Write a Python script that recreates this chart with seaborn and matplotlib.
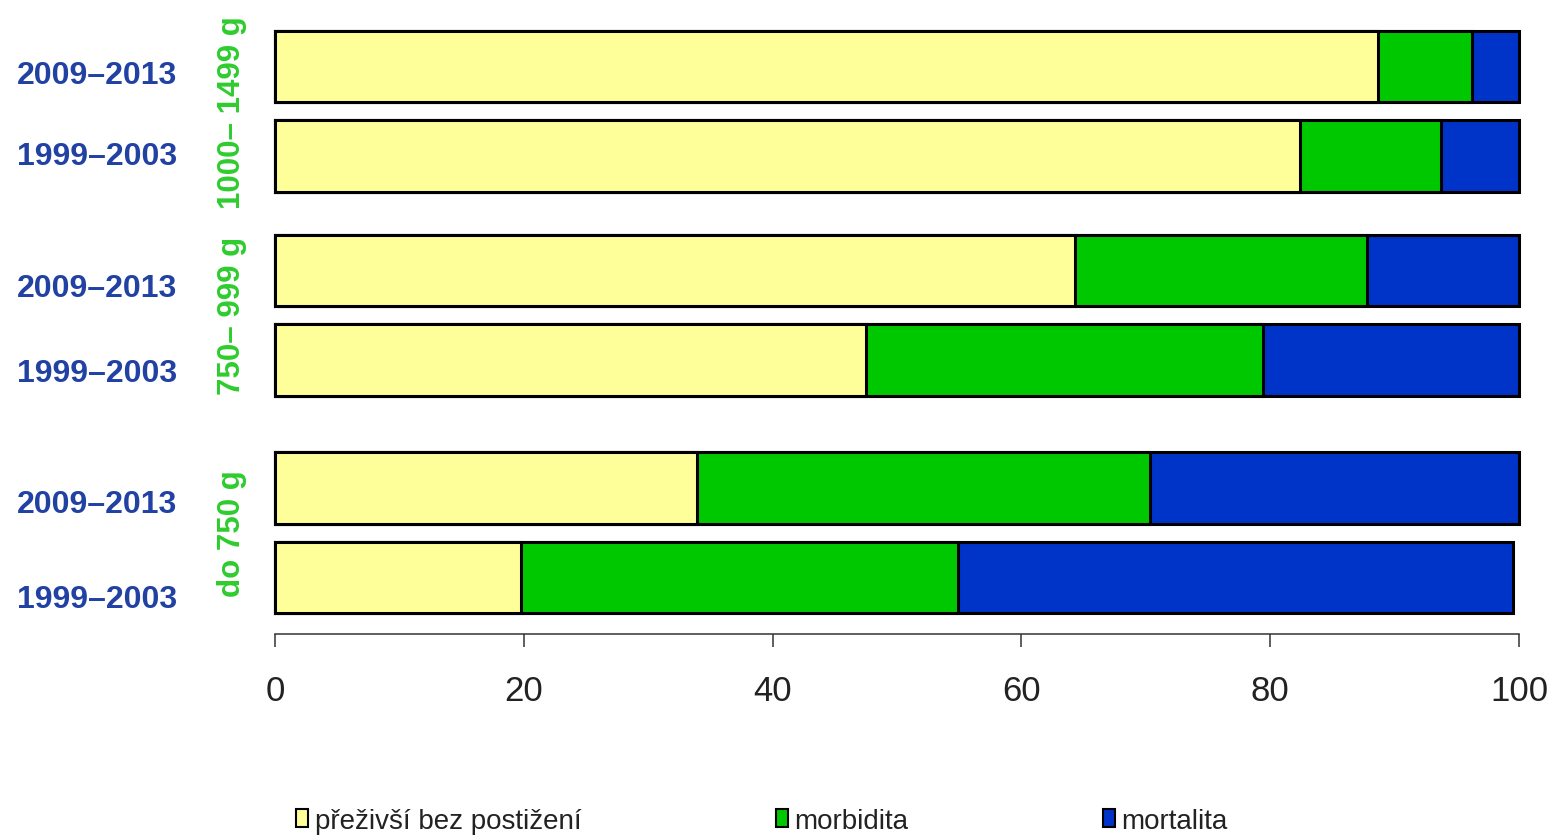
import matplotlib
matplotlib.use("Agg")
import matplotlib.pyplot as plt
import matplotlib.transforms as mtransforms
from matplotlib.patches import Patch
import seaborn as sns
import numpy as np
import pandas as pd

# ---- data ----
periods = ["2009–2013", "1999–2003", "2009–2013", "1999–2003", "2009–2013", "1999–2003"]
groups = ["1000– 1499 g", "750– 999 g", "do 750 g"]
preziv = [88.7, 82.4, 64.3, 47.5, 33.9, 19.8]
morbidita = [7.5, 11.3, 23.5, 31.9, 36.4, 35.1]
mortalita = [3.8, 6.3, 12.2, 20.6, 29.7, 44.6]
series_names = ["přeživší bez postižení", "morbidita", "mortalita"]
x_ticks = [0, 20, 40, 60, 80, 100]

# ---- layout (bar slots, top to bottom) ----
slot = [0, 1, 2.28, 3.28, 4.71, 5.71]
label_y = [0.1, 1.0, 2.47, 3.42, 4.89, 5.95]

colors = ["#FFFF99", "#00C800", "#0033C8"]

sns.set_theme(style="white")
plt.rcParams["font.family"] = ["Liberation Sans", "DejaVu Sans"]

df = pd.DataFrame({"slot": slot, "p": preziv, "m": morbidita, "t": mortalita})
df["c1"] = df["p"]
df["c2"] = df["p"] + df["m"]
df["c3"] = df["p"] + df["m"] + df["t"]

fig = plt.figure(figsize=(15.57, 8.37), dpi=100)
ax = fig.add_axes([262.6 / 1557, 202 / 837, (1531.4 - 262.6) / 1557, 621.2 / 837])

for col, c in zip(["c3", "c2", "c1"], colors[::-1]):
    sns.barplot(data=df, x=col, y="slot", orient="y", native_scale=True,
                color=c, edgecolor="black", linewidth=2.2, width=0.8,
                saturation=1, errorbar=None, ax=ax)

ax.set_xlim(-1, 101)
ax.set_ylim(6.34, -0.6)
ax.set_xlabel("")
ax.set_ylabel("")
ax.set_yticks([])
ax.set_xticks(x_ticks)
ax.set_xticklabels([str(v) for v in x_ticks], fontsize=25, color="#222222")
ax.tick_params(axis="x", length=9.5, width=1.1, color="#333333", pad=19, bottom=True)
for s in ["top", "right", "left"]:
    ax.spines[s].set_visible(False)
ax.spines["bottom"].set_bounds(0, 100)
ax.spines["bottom"].set_color("#333333")
ax.spines["bottom"].set_linewidth(1.1)

# period labels
trans = mtransforms.blended_transform_factory(fig.transFigure, ax.transData)
for ly, lab in zip(label_y, periods):
    ax.text(97 / 1557, ly, lab, transform=trans, ha="center", va="center",
            fontsize=23, fontweight="bold", color="#2141A3")

# group labels
for gi, g in enumerate(groups):
    yc = (slot[2 * gi] + slot[2 * gi + 1]) / 2
    ax.text(232 / 1557, yc, g, transform=trans, ha="center", va="center",
            rotation=90, fontsize=22.5, fontweight="bold", color="#2ECC2E")

handles = [Patch(facecolor=c, edgecolor="black", linewidth=1.5) for c in colors]
fig.legend(handles, series_names, loc="center", bbox_to_anchor=(762 / 1557, 15 / 837),
           ncol=3, frameon=False, fontsize=20, handlelength=0.42, handleheight=0.6,
           handletextpad=0.25, columnspacing=7.0, labelcolor="#222222")

fig.savefig("out.png", dpi=100)
